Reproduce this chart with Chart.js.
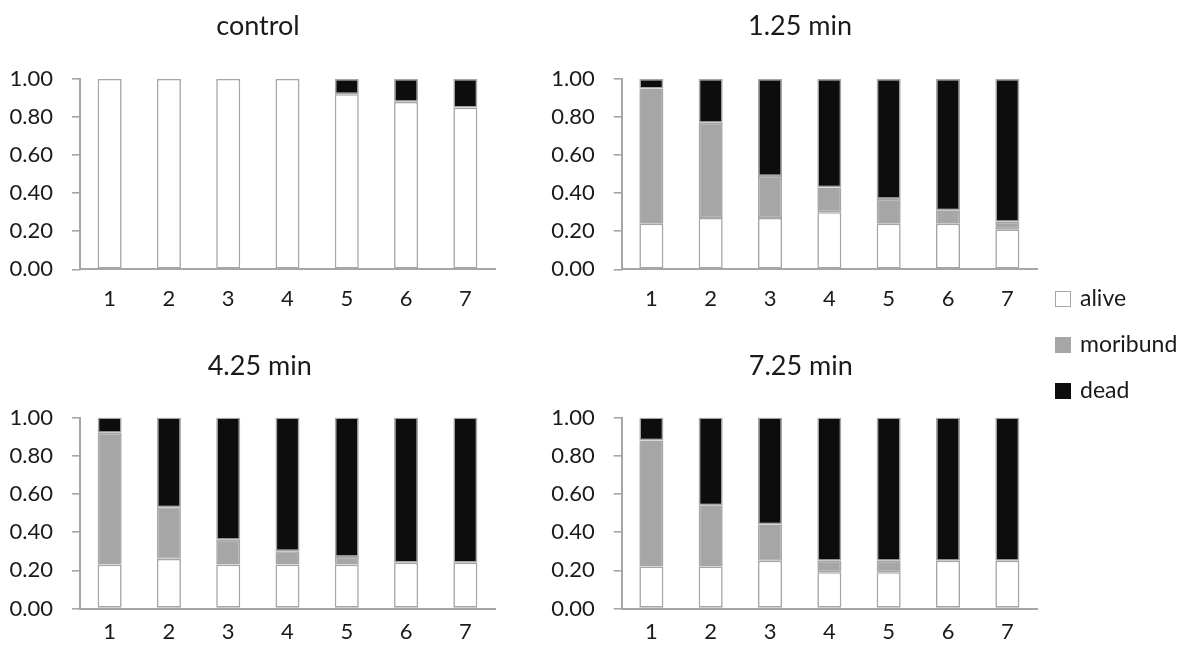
<!DOCTYPE html>
<html>
<head>
<meta charset="utf-8">
<script src="https://cdn.jsdelivr.net/npm/chart.js@4.4.1/dist/chart.umd.min.js"></script>
<style>
  html, body { margin: 0; padding: 0; background: #ffffff; }
  body { width: 1188px; height: 651px; position: relative; overflow: hidden; font-family: Lato, "Open Sans", sans-serif; }
  .panel { position: absolute; }
  .legend-sw { position: absolute; width: 16px; height: 16px; box-sizing: border-box; }
  .legend-lbl { position: absolute; font-family: Lato, sans-serif; font-size: 23px; line-height: 23px; color: #1a1a1a; white-space: nowrap; }
</style>
</head>
<body>
<div class="panel" style="left:0px;top:0px;"><canvas id="c1" width="520" height="330"></canvas></div>
<div class="panel" style="left:540px;top:0px;"><canvas id="c2" width="520" height="330"></canvas></div>
<div class="panel" style="left:0px;top:340px;"><canvas id="c3" width="520" height="311"></canvas></div>
<div class="panel" style="left:540px;top:340px;"><canvas id="c4" width="520" height="311"></canvas></div>
<div id="legend"></div>
<script>
// ---- data ----
const categories = ['1', '2', '3', '4', '5', '6', '7'];
const seriesNames = ['alive', 'moribund', 'dead'];
const panelTitles = ['control', '1.25 min', '4.25 min', '7.25 min'];
const yTickLabels = ['0.00', '0.20', '0.40', '0.60', '0.80', '1.00'];

const controlAlive    = [1.00, 1.00, 1.00, 1.00, 0.92, 0.88, 0.85];
const controlMoribund = [0, 0, 0, 0, 0, 0, 0];
const controlDead     = [0, 0, 0, 0, 0.08, 0.12, 0.15];

const min125Alive    = [0.24, 0.27, 0.27, 0.30, 0.24, 0.24, 0.21];
const min125Moribund = [0.71, 0.50, 0.22, 0.13, 0.13, 0.07, 0.04];
const min125Dead     = [0.05, 0.23, 0.51, 0.57, 0.63, 0.69, 0.75];

const min425Alive    = [0.23, 0.26, 0.23, 0.23, 0.23, 0.24, 0.24];
const min425Moribund = [0.69, 0.27, 0.13, 0.07, 0.04, 0, 0];
const min425Dead     = [0.08, 0.47, 0.64, 0.70, 0.73, 0.76, 0.76];

const min725Alive    = [0.22, 0.22, 0.25, 0.19, 0.19, 0.25, 0.25];
const min725Moribund = [0.66, 0.32, 0.19, 0.06, 0.06, 0, 0];
const min725Dead     = [0.12, 0.46, 0.56, 0.75, 0.75, 0.75, 0.75];

// ---- styles / layout ----
const FONT = 'Lato, "Open Sans", sans-serif';
const TEXT = '#1a1a1a';
const AXIS = '#a6a6a6';
const fills = ['#ffffff', '#a6a6a6', '#0d0d0d'];

const panels = [
  { id: 'c1', title: panelTitles[0], data: [controlAlive, controlMoribund, controlDead],
    padL: 4, padR: 8, yW: 76, yRW: 17, titleBottom: 36.6, xH: 60.7, xPad: 16 },
  { id: 'c2', title: panelTitles[1], data: [min125Alive, min125Moribund, min125Dead],
    padL: 4, padR: 4, yW: 77.7, yRW: 19, titleBottom: 36.6, xH: 60.7, xPad: 16 },
  { id: 'c3', title: panelTitles[2], data: [min425Alive, min425Moribund, min425Dead],
    padL: 4, padR: 4.6, yW: 76, yRW: 20.4, titleBottom: 35.1, xH: 42.5, xPad: 10 },
  { id: 'c4', title: panelTitles[3], data: [min725Alive, min725Moribund, min725Dead],
    padL: 4, padR: 2.4, yW: 77.7, yRW: 20.6, titleBottom: 35.1, xH: 42.5, xPad: 10 }
];

panels.forEach(p => {
  new Chart(document.getElementById(p.id), {
    type: 'bar',
    data: {
      labels: categories,
      datasets: seriesNames.map((name, i) => ({
        label: name,
        data: p.data[i],
        yAxisID: 'y',
        backgroundColor: fills[i],
        borderColor: AXIS,
        borderWidth: 1.6,
        borderSkipped: false,
        barPercentage: 0.405,
        categoryPercentage: 1.0
      }))
    },
    options: {
      responsive: false,
      animation: false,
      layout: { padding: { left: p.padL, right: p.padR, top: 0, bottom: 0 } },
      plugins: {
        legend: { display: false },
        tooltip: { enabled: false },
        title: {
          display: true,
          text: p.title,
          color: TEXT,
          font: { family: FONT, size: 27, weight: 'normal', lineHeight: 1.2 },
          padding: { top: 10, bottom: p.titleBottom }
        }
      },
      scales: {
        x: {
          stacked: true,
          grid: { display: false, drawTicks: false },
          border: { display: true, color: AXIS, width: 2 },
          ticks: { color: TEXT, font: { family: FONT, size: 22 }, padding: p.xPad, maxRotation: 0 },
          afterFit: s => { s.height = p.xH; }
        },
        y: {
          stacked: true,
          position: 'left',
          min: 0, max: 1,
          grid: { drawOnChartArea: false, drawTicks: true, tickLength: 8, color: AXIS, lineWidth: 1.6 },
          border: { display: true, color: AXIS, width: 2 },
          ticks: {
            stepSize: 0.2,
            color: TEXT,
            font: { family: FONT, size: 22 },
            padding: 19,
            callback: (v, i) => yTickLabels[i]
          },
          afterFit: s => { s.width = p.yW; }
        },
        // empty spacer axis on the right so the title centres where the original does
        yR: {
          position: 'right',
          display: true,
          grid: { display: false, drawTicks: false },
          border: { display: false },
          ticks: { display: false },
          afterFit: s => { s.width = p.yRW; }
        }
      }
    }
  });
});

// legend (real text)
const legendPos = { x: 1055, textX: 1080, baselines: [306, 352, 398] };
const legend = document.getElementById('legend');
seriesNames.forEach((name, i) => {
  const base = legendPos.baselines[i];
  const sw = document.createElement('div');
  sw.className = 'legend-sw';
  sw.style.left = legendPos.x + 'px';
  sw.style.top = (base - 15) + 'px';
  sw.style.background = fills[i];
  sw.style.border = '1.5px solid ' + (i === 0 ? AXIS : fills[i]);
  const lbl = document.createElement('div');
  lbl.className = 'legend-lbl';
  lbl.style.left = legendPos.textX + 'px';
  lbl.style.top = (base - 20) + 'px';
  lbl.textContent = name;
  legend.appendChild(sw);
  legend.appendChild(lbl);
});
</script>
</body>
</html>
